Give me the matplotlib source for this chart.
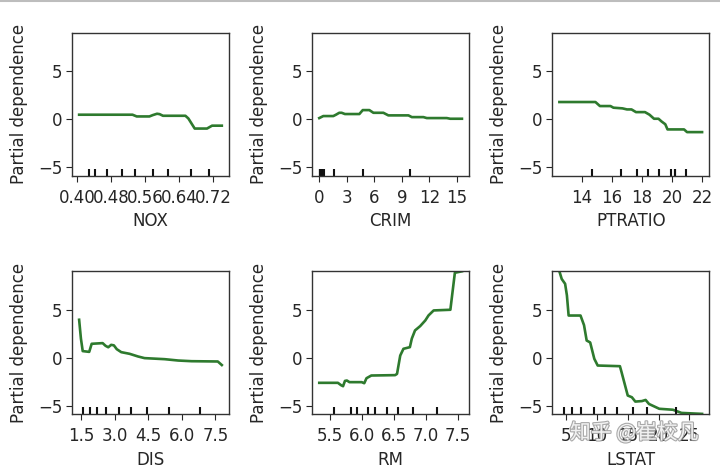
import matplotlib
matplotlib.use("Agg")
import matplotlib.pyplot as plt
import matplotlib.patheffects as pe
from matplotlib.lines import Line2D

# ---------------- data ----------------
nox_x = [0.404, 0.530, 0.540, 0.570, 0.578, 0.588, 0.594, 0.602, 0.655, 0.662, 0.677, 0.706, 0.718, 0.741]
nox_y = [0.49, 0.49, 0.31, 0.31, 0.45, 0.59, 0.55, 0.38, 0.38, 0.10, -0.95, -0.95, -0.65, -0.65]
nox_deciles = [0.427, 0.442, 0.469, 0.505, 0.537, 0.578, 0.614, 0.669, 0.710]
nox_ticks = [0.40, 0.48, 0.56, 0.64, 0.72]
nox_ticklabels = ["0.40", "0.48", "0.56", "0.64", "0.72"]

crim_x = [0.0, 0.44, 1.53, 1.82, 2.18, 2.44, 2.8, 4.37, 4.74, 5.46, 5.9, 6.99, 7.53, 9.72, 10.09, 11.35, 11.72, 13.9, 14.27, 15.55]
crim_y = [0.14, 0.35, 0.35, 0.49, 0.69, 0.69, 0.56, 0.56, 0.97, 0.97, 0.69, 0.69, 0.42, 0.42, 0.24, 0.24, 0.14, 0.14, 0.07, 0.07]
crim_deciles = [0.04, 0.06, 0.08, 0.15, 0.26, 0.55, 1.6, 4.8, 9.9]
crim_ticks = [0, 3, 6, 9, 12, 15]
crim_ticklabels = ["0", "3", "6", "9", "12", "15"]

ptratio_x = [12.5, 14.9, 15.2, 15.9, 16.1, 16.7, 17.0, 17.3, 17.6, 18.2, 18.5, 18.8, 19.1, 19.3, 19.55, 19.7, 20.8, 21.0, 22.0]
ptratio_y = [1.81, 1.81, 1.39, 1.39, 1.22, 1.15, 1.04, 1.04, 0.76, 0.76, 0.49, 0.07, 0.07, -0.21, -0.5, -1.04, -1.04, -1.32, -1.32]
ptratio_deciles = [14.7, 16.6, 17.7, 18.4, 19.1, 19.9, 20.2, 20.2, 20.9]
ptratio_ticks = [14, 16, 18, 20, 22]
ptratio_ticklabels = ["14", "16", "18", "20", "22"]

dis_x = [1.42, 1.50, 1.58, 1.87, 1.98, 2.47, 2.60, 2.72, 2.85, 2.97, 3.1, 3.3, 3.67, 4.05, 4.34, 5.24, 5.84, 6.44, 7.61, 7.79]
dis_y = [3.96, 2.0, 0.7, 0.62, 1.46, 1.53, 1.25, 1.1, 1.35, 1.3, 0.9, 0.59, 0.42, 0.14, -0.03, -0.14, -0.28, -0.35, -0.38, -0.75]
dis_deciles = [1.58, 1.92, 2.22, 2.61, 3.22, 3.75, 4.46, 5.44, 6.83]
dis_ticks = [1.5, 3.0, 4.5, 6.0, 7.5]
dis_ticklabels = ["1.5", "3.0", "4.5", "6.0", "7.5"]

rm_x = [5.34, 5.63, 5.68, 5.71, 5.74, 5.77, 5.81, 6.0, 6.04, 6.075, 6.15, 6.52, 6.55, 6.60, 6.65, 6.75, 6.78, 6.83, 6.91, 6.99, 7.04, 7.12, 7.38, 7.45, 7.56]
rm_y = [-2.6, -2.6, -2.85, -2.95, -2.4, -2.36, -2.53, -2.53, -2.64, -2.12, -1.84, -1.8, -1.67, 0.24, 0.94, 1.11, 2.0, 2.85, 3.3, 3.89, 4.41, 4.93, 5.0, 8.85, 9.0]
rm_deciles = [5.57, 5.83, 5.93, 6.10, 6.21, 6.39, 6.56, 6.80, 7.17]
rm_ticks = [5.5, 6.0, 6.5, 7.0, 7.5]
rm_ticklabels = ["5.5", "6.0", "6.5", "7.0", "7.5"]

lstat_x = [3.9, 4.28, 4.83, 5.12, 5.4, 7.33, 7.9, 8.33, 8.9, 9.57, 10.12, 13.73, 14.0, 15.0, 15.67, 16.23, 17.3, 17.9, 18.45, 20.12, 22.33, 23.73, 27.07]
lstat_y = [9.0, 8.2, 7.7, 6.5, 4.4, 4.4, 3.4, 1.8, 1.6, -0.1, -0.8, -0.87, -1.5, -3.92, -4.1, -4.55, -4.5, -4.38, -4.8, -5.3, -5.4, -5.73, -5.83]
lstat_deciles = [4.57, 5.95, 7.33, 9.57, 11.33, 13.28, 15.83, 18.17, 22.9]
lstat_ticks = [5, 10, 15, 20, 25]
lstat_ticklabels = ["5", "10", "15", "20", "25"]

features = ["NOX", "CRIM", "PTRATIO", "DIS", "RM", "LSTAT"]
y_ticks = [-5, 0, 5]
y_label = "Partial dependence"
watermark = "知乎 @崔校凡"

panels = [
    (nox_x, nox_y, nox_deciles, nox_ticks, nox_ticklabels),
    (crim_x, crim_y, crim_deciles, crim_ticks, crim_ticklabels),
    (ptratio_x, ptratio_y, ptratio_deciles, ptratio_ticks, ptratio_ticklabels),
    (dis_x, dis_y, dis_deciles, dis_ticks, dis_ticklabels),
    (rm_x, rm_y, rm_deciles, rm_ticks, rm_ticklabels),
    (lstat_x, lstat_y, lstat_deciles, lstat_ticks, lstat_ticklabels),
]

# ---------------- figure ----------------
plt.rcParams['font.family'] = ['DejaVu Sans']
fig, axes = plt.subplots(2, 3, figsize=(7.2, 4.7), dpi=100)
fig.subplots_adjust(left=0.1, right=0.985, top=0.93, bottom=0.119, wspace=0.53, hspace=0.67)

line_color = "#2e7a2e"
text_color = "#262626"
for ax, name, (xs, ys, dec, ticks, tlabels) in zip(axes.ravel(), features, panels):
    ax.plot(xs, ys, color=line_color, lw=1.9)
    ax.vlines(dec, 0, 0.05, transform=ax.get_xaxis_transform(), color="#111111", lw=1.5)
    ax.set_ylim(-5.85, 9.0)
    ax.set_yticks(y_ticks)
    ax.set_xticks(ticks)
    ax.set_xticklabels(tlabels)
    ax.set_xlabel(name, fontsize=12, color=text_color, labelpad=4)
    ax.set_ylabel(y_label, fontsize=12, color=text_color, labelpad=7)
    ax.tick_params(labelsize=12, colors=text_color)
    ax.tick_params(axis="x", length=4.5, pad=5)
    ax.tick_params(axis="y", length=4, pad=3)
    for sp in ax.spines.values():
        sp.set_color("#333333")
        sp.set_linewidth(1.0)

# thin gray rule at the very top of the image
fig.add_artist(Line2D([0, 1], [0.997, 0.997], transform=fig.transFigure, color="#bdbdbd", lw=1.5))

# watermark (sits over the LSTAT tick labels, as in the reference)
fig.text(0.881, 0.079, watermark, ha="center", va="center", fontsize=15,
         family=['Noto Sans CJK SC', 'DejaVu Sans'], color="white", alpha=0.85,
         path_effects=[pe.withStroke(linewidth=1.6, foreground="#9a9a9a")])

fig.savefig("out.png", dpi=100, facecolor="white")
